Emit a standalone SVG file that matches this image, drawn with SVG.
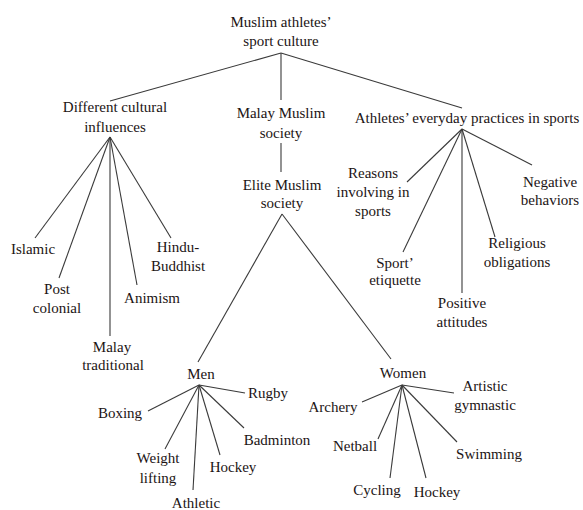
<svg xmlns="http://www.w3.org/2000/svg" width="583" height="510" viewBox="0 0 583 510">
<defs>
<style>
.t{font-family:'Times New Roman','Liberation Serif',Tinos,serif;font-size:15px;fill:#1c1414;text-anchor:middle}
</style>
</defs>
<rect width="583" height="510" fill="#fff"/>
<g id="connectors" stroke="#3a3a3a" stroke-width="1.1">
<line x1="281" y1="53" x2="110" y2="101"/>
<line x1="281" y1="53" x2="281" y2="100"/>
<line x1="281" y1="53" x2="462" y2="108"/>
<line x1="281" y1="143" x2="281" y2="172"/>
<line x1="282" y1="214" x2="198" y2="362"/>
<line x1="282" y1="214" x2="391" y2="359"/>
<line x1="110" y1="137" x2="35" y2="238"/>
<line x1="110" y1="137" x2="59" y2="278"/>
<line x1="110" y1="137" x2="110" y2="336"/>
<line x1="110" y1="137" x2="137" y2="285"/>
<line x1="110" y1="137" x2="171" y2="238"/>
<line x1="462" y1="129" x2="407" y2="182"/>
<line x1="462" y1="129" x2="403" y2="252"/>
<line x1="462" y1="129" x2="462" y2="293"/>
<line x1="462" y1="129" x2="495" y2="237"/>
<line x1="462" y1="129" x2="532" y2="165"/>
<line x1="199" y1="385" x2="245" y2="393"/>
<line x1="199" y1="385" x2="148" y2="411"/>
<line x1="199" y1="385" x2="165" y2="449"/>
<line x1="199" y1="385" x2="193" y2="490"/>
<line x1="199" y1="385" x2="220" y2="455"/>
<line x1="199" y1="385" x2="244" y2="428"/>
<line x1="402" y1="385" x2="454" y2="393"/>
<line x1="402" y1="385" x2="362" y2="402"/>
<line x1="402" y1="385" x2="378" y2="439"/>
<line x1="402" y1="385" x2="390" y2="478"/>
<line x1="402" y1="385" x2="426" y2="478"/>
<line x1="402" y1="385" x2="457" y2="442"/>
</g>
<g id="root"><text class="t" x="281" y="27">Muslim athletes&#8217;</text><text class="t" x="281" y="46">sport culture</text></g>
<g id="different"><text class="t" x="115" y="112">Different cultural</text><text class="t" x="115" y="132">influences</text></g>
<g id="malay"><text class="t" x="281" y="118">Malay Muslim</text><text class="t" x="281" y="138">society</text></g>
<g id="elite"><text class="t" x="282" y="190">Elite Muslim</text><text class="t" x="282" y="208">society</text></g>
<g id="athletes"><text class="t" x="467" y="123">Athletes&#8217; everyday practices in sports</text></g>
<g id="islamic"><text class="t" x="33" y="254">Islamic</text></g>
<g id="postcolonial"><text class="t" x="57" y="294">Post</text><text class="t" x="57" y="313">colonial</text></g>
<g id="malaytrad"><text class="t" x="112" y="352">Malay</text><text class="t" x="113" y="370">traditional</text></g>
<g id="animism"><text class="t" x="152" y="303">Animism</text></g>
<g id="hindu"><text class="t" x="178" y="252">Hindu-</text><text class="t" x="178" y="271">Buddhist</text></g>
<g id="reasons"><text class="t" x="373" y="178">Reasons</text><text class="t" x="373" y="197">involving in</text><text class="t" x="373" y="216">sports</text></g>
<g id="etiquette"><text class="t" x="395" y="268">Sport&#8217;</text><text class="t" x="395" y="285">etiquette</text></g>
<g id="positive"><text class="t" x="462" y="308">Positive</text><text class="t" x="462" y="327">attitudes</text></g>
<g id="religious"><text class="t" x="517" y="248">Religious</text><text class="t" x="517" y="267">obligations</text></g>
<g id="negative"><text class="t" x="550" y="187">Negative</text><text class="t" x="550" y="205">behaviors</text></g>
<g id="men"><text class="t" x="201" y="379">Men</text></g>
<g id="rugby"><text class="t" x="268" y="398">Rugby</text></g>
<g id="boxing"><text class="t" x="120" y="418">Boxing</text></g>
<g id="weight"><text class="t" x="158" y="463">Weight</text><text class="t" x="158" y="483">lifting</text></g>
<g id="athletic"><text class="t" x="196" y="508">Athletic</text></g>
<g id="hockey-m"><text class="t" x="233" y="472">Hockey</text></g>
<g id="badminton"><text class="t" x="277" y="445">Badminton</text></g>
<g id="women"><text class="t" x="403" y="378">Women</text></g>
<g id="artistic"><text class="t" x="485" y="391">Artistic</text><text class="t" x="485" y="410">gymnastic</text></g>
<g id="archery"><text class="t" x="333" y="412">Archery</text></g>
<g id="netball"><text class="t" x="355" y="451">Netball</text></g>
<g id="cycling"><text class="t" x="377" y="495">Cycling</text></g>
<g id="hockey-w"><text class="t" x="437" y="497">Hockey</text></g>
<g id="swimming"><text class="t" x="489" y="459">Swimming</text></g>
</svg>
